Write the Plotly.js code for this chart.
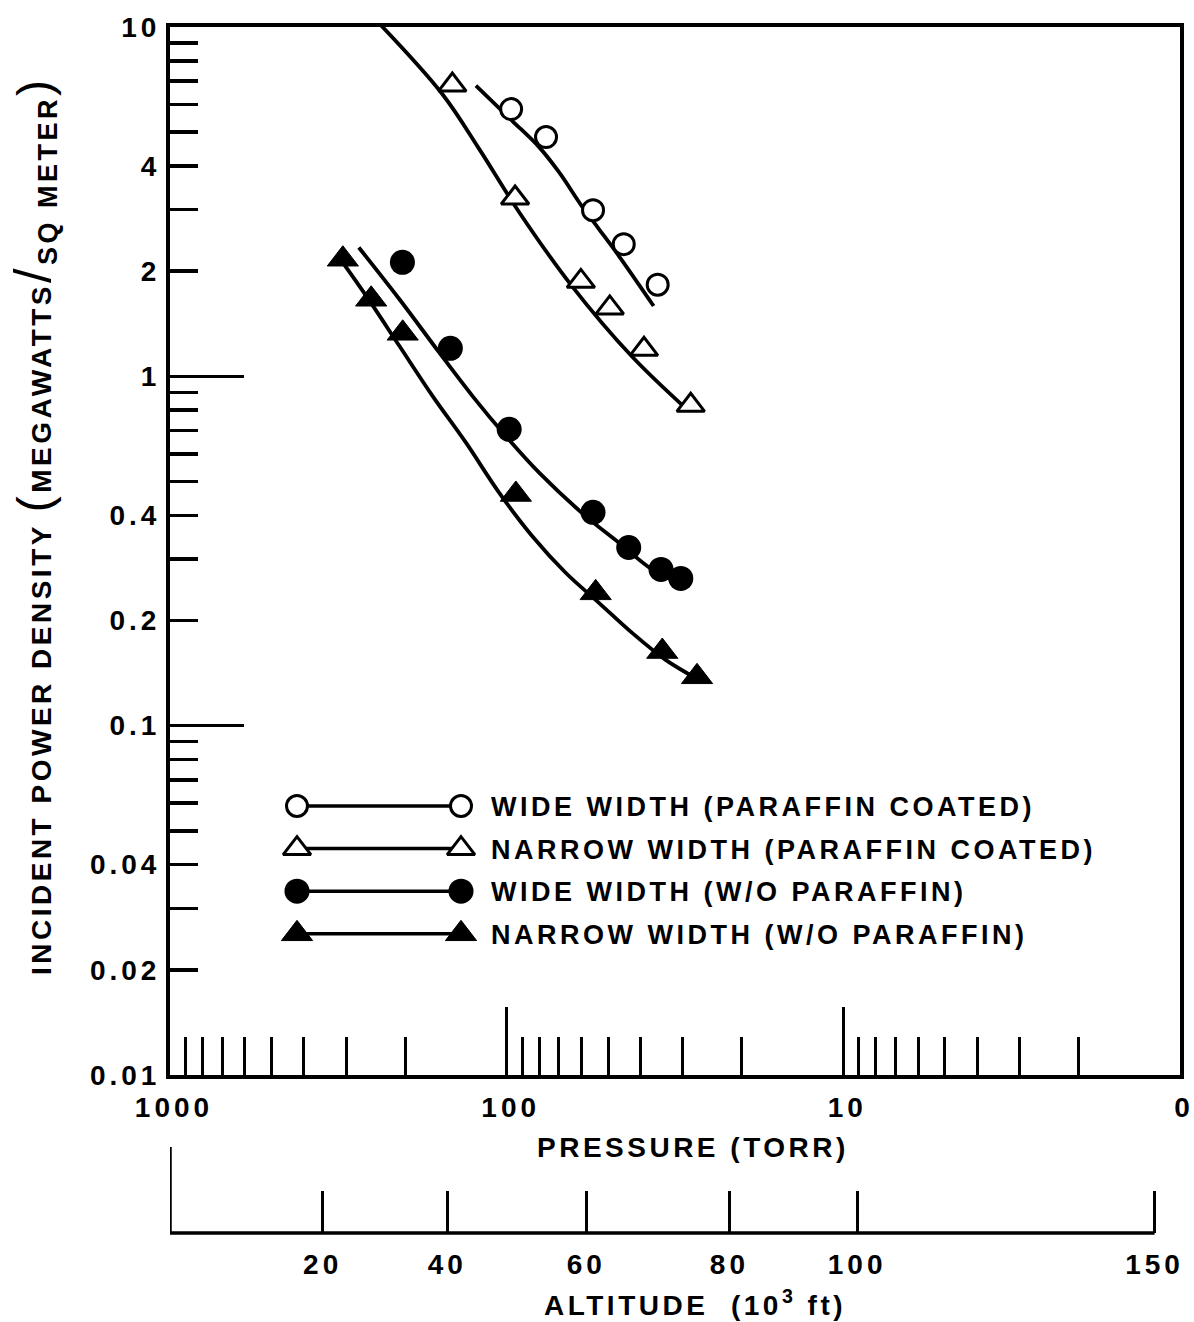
<!DOCTYPE html>
<html>
<head>
<meta charset="utf-8">
<script src="https://cdn.plot.ly/plotly-3.0.1.min.js"></script>
<style>
  html, body { margin: 0; padding: 0; background: #ffffff; }
  text.annotation-text { letter-spacing: 3.5px; }
  .xtick text, .x2tick text, .ytick text { letter-spacing: 4px; }
</style>
</head>
<body>
<div id="chart" style="width:1194px;height:1322px;"></div>
<script>
// ---------------- data ----------------
// Wide width (paraffin coated) - open circles
const wideCoatedP = [97.0, 76.4, 55.4, 44.9, 35.6];
const wideCoatedV = [5.82, 4.84, 2.99, 2.39, 1.83];
const wideCoatedFitP = [123.4, 96.3, 80.1, 69.9, 59.8, 53.2, 46.4, 36.6];
const wideCoatedFitV = [6.79, 5.39, 4.53, 3.84, 3.07, 2.64, 2.21, 1.59];

// Narrow width (paraffin coated) - open triangles
const narrowCoatedP = [145.0, 94.4, 60.2, 49.4, 39.1, 28.4];
const narrowCoatedV = [6.82, 3.24, 1.87, 1.57, 1.195, 0.826];
const narrowCoatedFitP = [235.9, 155.3, 120.6, 91.8, 63.9, 42.5, 29.6];
const narrowCoatedFitV = [10.1, 6.43, 4.47, 2.95, 1.81, 1.141, 0.815];

// Wide width (w/o paraffin) - filled circles
const wideBareP = [204, 147, 98.3, 55.4, 43.4, 34.8, 30.4];
const wideBareV = [2.12, 1.203, 0.705, 0.408, 0.3236, 0.28, 0.264];
const wideBareFitP = [274.9, 208.2, 158.5, 126.3, 100.6, 80.1, 58.3, 46.4, 37.0, 30.8];
const wideBareFitV = [2.338, 1.662, 1.169, 0.878, 0.6745, 0.530, 0.398, 0.334, 0.28, 0.2564];

// Narrow width (w/o paraffin) - filled triangles
const narrowBareP = [306.6, 252.6, 203.6, 93.9, 54.4, 34.5, 27.2];
const narrowBareV = [2.164, 1.662, 1.328, 0.459, 0.240, 0.163, 0.138];
const narrowBareFitP = [306.6, 261.3, 208.2, 165.9, 132.1, 105.2, 83.9, 66.8, 53.2, 42.4, 33.8, 26.9];
const narrowBareFitV = [2.117, 1.699, 1.221, 0.878, 0.6457, 0.464, 0.3486, 0.274, 0.2247, 0.1843, 0.1546, 0.1354];

// Series labels (legend)
const seriesLabels = [
  'WIDE WIDTH (PARAFFIN COATED)',
  'NARROW WIDTH (PARAFFIN COATED)',
  'WIDE WIDTH (W/O PARAFFIN)',
  'NARROW WIDTH (W/O PARAFFIN)'
];

// Pressure axis ticks (torr)
const pressureMajor = [1000, 100, 10, 1];
const pressureMajorText = ['1000', '100', '10', '0'];
const pressureMinor = [900, 800, 700, 600, 500, 400, 300, 200,
                       90, 80, 70, 60, 50, 40, 30, 20,
                       9, 8, 7, 6, 5, 4, 3, 2];

// Power density axis ticks
const densityLabelled = [0.01, 0.02, 0.04, 0.1, 0.2, 0.4, 1, 2, 4, 10];
const densityLabelText = ['0.01', '0.02', '0.04', '0.1', '0.2', '0.4', '1', '2', '4', '10'];
const densityMinor = [0.03, 0.05, 0.06, 0.07, 0.08, 0.09,
                      0.3, 0.5, 0.6, 0.7, 0.8, 0.9,
                      3, 5, 6, 7, 8, 9];
const densityLongTicks = [0.1, 1];

// Altitude scale (10^3 ft) and the pressure (torr) each tick sits at
const altitudeLabels = ['20', '40', '60', '80', '100', '150'];
const altitudePressure = [352, 150, 58, 21.8, 9.1, 1.19];

// ---------------- layout helpers ----------------
const W = 1194, H = 1322;
const M = { l: 170, r: 14, t: 27, b: 89 };
const plotW = W - M.l - M.r;
const plotH = H - M.t - M.b;
const px = x => (x - M.l) / plotW;
const py = y => (H - M.b - y) / plotH;
const mainBottomPx = 1075;
const yDomainLow = py(mainBottomPx);

const FONT = 'Liberation Sans, Arial, sans-serif';
const BLACK = '#000000';

const styles = [
  { symbol: 'circle', size: 21, color: '#ffffff', lw: 3 },
  { symbol: 'triangle-up', size: 24, color: '#ffffff', lw: 3 },
  { symbol: 'circle', size: 25, color: BLACK, lw: 0 },
  { symbol: 'triangle-up', size: 27, color: BLACK, lw: 1 }
];
const fits = [
  [wideCoatedFitP, wideCoatedFitV],
  [narrowCoatedFitP, narrowCoatedFitV],
  [wideBareFitP, wideBareFitV],
  [narrowBareFitP, narrowBareFitV]
];
const points = [
  [wideCoatedP, wideCoatedV],
  [narrowCoatedP, narrowCoatedV],
  [wideBareP, wideBareV],
  [narrowBareP, narrowBareV]
];

const traces = [];
fits.forEach((f, i) => {
  traces.push({
    type: 'scatter', mode: 'lines', x: f[0], y: f[1],
    xaxis: 'x', yaxis: 'y',
    line: { color: BLACK, width: 3.8, shape: 'spline', smoothing: 1 },
    showlegend: false, hoverinfo: 'skip', name: seriesLabels[i] + ' fit'
  });
});
points.forEach((p, i) => {
  const s = styles[i];
  traces.push({
    type: 'scatter', mode: 'markers', x: p[0], y: p[1],
    xaxis: 'x', yaxis: 'y', name: seriesLabels[i],
    marker: { symbol: s.symbol, size: s.size, color: s.color, line: { color: BLACK, width: s.lw } },
    showlegend: false, cliponaxis: false
  });
});
// empty traces to register the overlay axes
traces.push({ type: 'scatter', x: [], y: [], xaxis: 'x', yaxis: 'y2', showlegend: false, hoverinfo: 'skip' });
traces.push({ type: 'scatter', x: [], y: [], xaxis: 'x2', yaxis: 'y', showlegend: false, hoverinfo: 'skip' });

// hand-drawn style legend keys (marker — line — marker) on a pixel-unit helper axis
const keyLeft = 297, keyRight = 461, legendTop = 806, legendGap = 42.6, legendTextX = 489;
seriesLabels.forEach((lab, i) => {
  const s = styles[i];
  const yy = legendTop + i * legendGap;
  traces.push({
    type: 'scatter', mode: 'lines+markers', x: [keyLeft, keyRight], y: [yy, yy],
    xaxis: 'x3', yaxis: 'y3', showlegend: false, hoverinfo: 'skip',
    line: { color: BLACK, width: 3.5 },
    marker: { symbol: s.symbol, size: s.size, color: s.color, line: { color: BLACK, width: s.lw } }
  });
});

const tickFont = { family: FONT, size: 28, color: BLACK, weight: 700 };

const annotations = [
  {
    text: 'PRESSURE (TORR)', xref: 'paper', yref: 'paper', x: px(693), y: py(1147),
    xanchor: 'center', yanchor: 'middle', showarrow: false,
    font: { family: FONT, size: 28, color: BLACK, weight: 700 }
  },
  {
    text: 'ALTITUDE  (10<sup>3</sup> ft)', xref: 'paper', yref: 'paper', x: px(695), y: py(1303),
    xanchor: 'center', yanchor: 'middle', showarrow: false,
    font: { family: FONT, size: 28, color: BLACK, weight: 700 }
  },
  {
    text: 'INCIDENT POWER DENSITY <span style="font-size:48px;font-weight:400">(</span>MEGAWATTS<span style="font-size:52px;font-weight:400">/</span><sub><span style="font-size:27px">SQ METER</span></sub><span style="font-size:48px;font-weight:400">)</span>',
    xref: 'paper', yref: 'paper', x: px(33), y: py(526), textangle: -90,
    xanchor: 'center', yanchor: 'middle', showarrow: false,
    font: { family: FONT, size: 28, color: BLACK, weight: 700 }
  }
];
seriesLabels.forEach((lab, i) => {
  annotations.push({
    text: lab, xref: 'paper', yref: 'paper', x: px(legendTextX), y: py(legendTop + i * legendGap + 1),
    xanchor: 'left', yanchor: 'middle', showarrow: false,
    font: { family: FONT, size: 27, color: BLACK, weight: 700 }
  });
});

const layout = {
  width: W, height: H,
  margin: M,
  paper_bgcolor: '#ffffff', plot_bgcolor: 'rgba(0,0,0,0)',
  showlegend: false,
  font: { family: FONT, color: BLACK },
  xaxis: {
    type: 'log', range: [3, 0], domain: [0, 1], anchor: 'y',
    tickmode: 'array', tickvals: pressureMajor, ticktext: pressureMajorText,
    ticks: 'inside', ticklen: 68, tickwidth: 3, tickcolor: BLACK,
    showline: true, linewidth: 4, linecolor: BLACK, mirror: true,
    showgrid: false, zeroline: false, tickfont: tickFont,
    ticklabelstandoff: 4, ticklabelshift: -4, ticklabeloverflow: 'allow',
    minor: { tickmode: 'array', tickvals: pressureMinor, ticks: 'inside', ticklen: 38, tickwidth: 3, tickcolor: BLACK, showgrid: false }
  },
  yaxis: {
    type: 'log', range: [-2, 1], domain: [yDomainLow, 1], anchor: 'x',
    tickmode: 'array', tickvals: densityLabelled, ticktext: densityLabelText,
    ticks: 'inside', ticklen: 28, tickwidth: 3.5, tickcolor: BLACK,
    showline: true, linewidth: 4, linecolor: BLACK, mirror: true,
    showgrid: false, zeroline: false, tickfont: tickFont, ticklabelstandoff: 0,
    minor: { tickmode: 'array', tickvals: densityMinor, ticks: 'inside', ticklen: 28, tickwidth: 3.5, tickcolor: BLACK, showgrid: false }
  },
  yaxis2: {
    type: 'log', range: [-2, 1], overlaying: 'y', anchor: 'x', side: 'left',
    tickmode: 'array', tickvals: densityLongTicks, ticks: 'inside', ticklen: 74, tickwidth: 3.5, tickcolor: BLACK,
    showticklabels: false, showline: false, showgrid: false, zeroline: false
  },
  xaxis2: {
    type: 'log', range: [3, 0], overlaying: 'x', anchor: 'free', position: 0, side: 'bottom',
    tickmode: 'array', tickvals: altitudePressure, ticktext: altitudeLabels,
    ticks: 'inside', ticklen: 42, tickwidth: 3, tickcolor: BLACK,
    showline: false, showgrid: false, zeroline: false, tickfont: tickFont, ticklabelstandoff: 12
  },
  xaxis3: { domain: [0, 1], range: [M.l, W - M.r], anchor: 'y3', visible: false, fixedrange: true },
  yaxis3: { domain: [0, 1], range: [H - M.b, M.t], anchor: 'x3', visible: false, fixedrange: true },
  shapes: [
    { type: 'line', xref: 'x', yref: 'paper', x0: pressureMajor[0], x1: altitudePressure[altitudePressure.length - 1], y0: 0, y1: 0, line: { color: BLACK, width: 3.5 } },
    { type: 'line', xref: 'x', yref: 'paper', x0: pressureMajor[0], x1: pressureMajor[0], y0: 0, y1: py(1147), line: { color: BLACK, width: 3.5 } }
  ],
  annotations: annotations
};

Plotly.newPlot('chart', traces, layout, { displayModeBar: false, staticPlot: true });
</script>
</body>
</html>
